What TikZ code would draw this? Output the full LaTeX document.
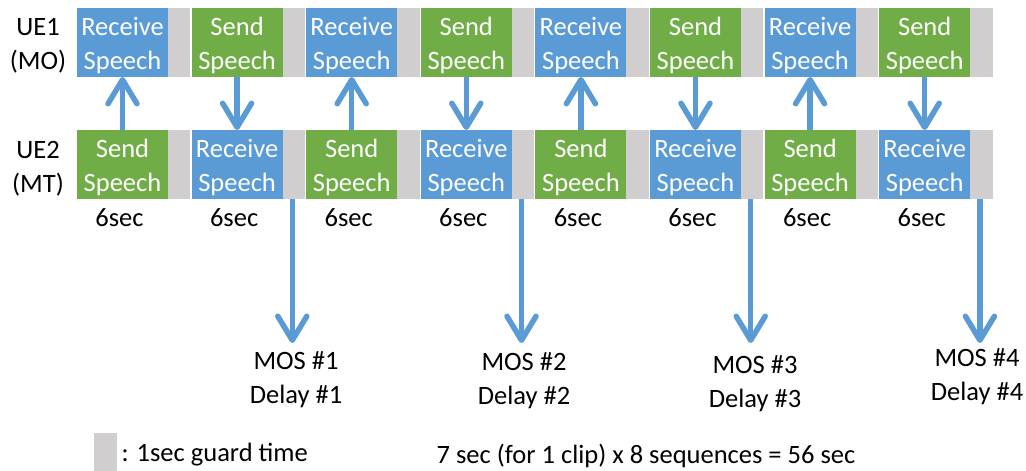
\documentclass[tikz,border=0pt]{standalone}
\usepackage{fontspec}
\setmainfont{Carlito}
\usetikzlibrary{arrows.meta}
\definecolor{ublue}{HTML}{5B9BD5}
\definecolor{ugreen}{HTML}{70AD47}
\definecolor{ggray}{HTML}{D0CECE}

% a line of slot text with a fixed ascent, so both lines sit alike
\newcommand\slotline[1]{\rule{0pt}{24pt}#1}

\tikzset{
  txt/.style={font=\fontsize{26.5}{34}\selectfont, align=center, inner sep=0pt},
  blk/.style={txt, text=white, minimum width=91, minimum height=69, outer sep=0pt},
  recvbox/.style={blk, fill=ublue},
  sendbox/.style={blk, fill=ugreen},
  guard/.style={fill=ggray, minimum width=22.4, minimum height=69, inner sep=0pt, outer sep=0pt},
  flow/.style={draw=ublue, line width=5.5pt,
    -{Straight Barb[length=24pt, width=29pt, round]}},
}

\begin{document}
\begin{tikzpicture}[x=1pt, y=-1pt]
\useasboundingbox (0,0) rectangle (1026,471);

% speech slots of both handsets, each followed by a 1 s guard slot
\foreach \i/\ts/\tw/\bs/\bw in {0/recvbox/Receive/sendbox/Send,
                                1/sendbox/Send/recvbox/Receive,
                                2/recvbox/Receive/sendbox/Send,
                                3/sendbox/Send/recvbox/Receive,
                                4/recvbox/Receive/sendbox/Send,
                                5/sendbox/Send/recvbox/Receive,
                                6/recvbox/Receive/sendbox/Send,
                                7/sendbox/Send/recvbox/Receive} {
  \pgfmathsetmacro{\xl}{77+\i*114.6}
  \node[\ts] (t\i) at (\xl+45.5, 42.5) {\slotline{\tw}\\Speech};
  \node[\bs] (b\i) at (\xl+45.5, 164.5) {\slotline{\bw}\\Speech};
  \node[guard] (tg\i) at (\xl+102.2, 42.5) {};
  \node[guard] (bg\i) at (\xl+102.2, 164.5) {};
  \node[txt] (s\i) at (\xl+42.5, 218) {6sec};
}

% handset labels
\node[txt] (ue1) at (38, 45.5) {UE1\\(MO)};
\node[txt] (ue2) at (38, 169) {UE2\\(MT)};

% speech direction between the handsets
\foreach \i in {0,2,4,6} {
  \draw[flow] (b\i.north) -- (t\i.south);
}
\foreach \i in {1,3,5,7} {
  \draw[flow] (t\i.south) -- (b\i.north);
}

% measurement results after every pair of clips
\foreach \i/\n/\xm/\ym in {1/1/296/379.5, 3/2/524/381, 5/3/755/384, 7/4/977/377} {
  \coordinate (e\n) at ([xshift=-1.5pt]bg\i.south |- 0,343);
  \draw[flow] ([xshift=-1.5pt]bg\i.south) -- (e\n);
  \node[txt] (m\n) at (\xm, \ym) {MOS \#\n\\Delay \#\n};
}

% legend
\node[fill=ggray, minimum width=23, minimum height=38, inner sep=0pt, anchor=north west] (lg) at (94,433) {};
\node[txt, anchor=west] (lt) at ([xshift=4pt, yshift=-2pt]lg.east) {: 1sec guard time};
\node[txt] (sum) at (646, 456) {7 sec (for 1 clip) x 8 sequences = 56 sec};
\end{tikzpicture}
\end{document}
